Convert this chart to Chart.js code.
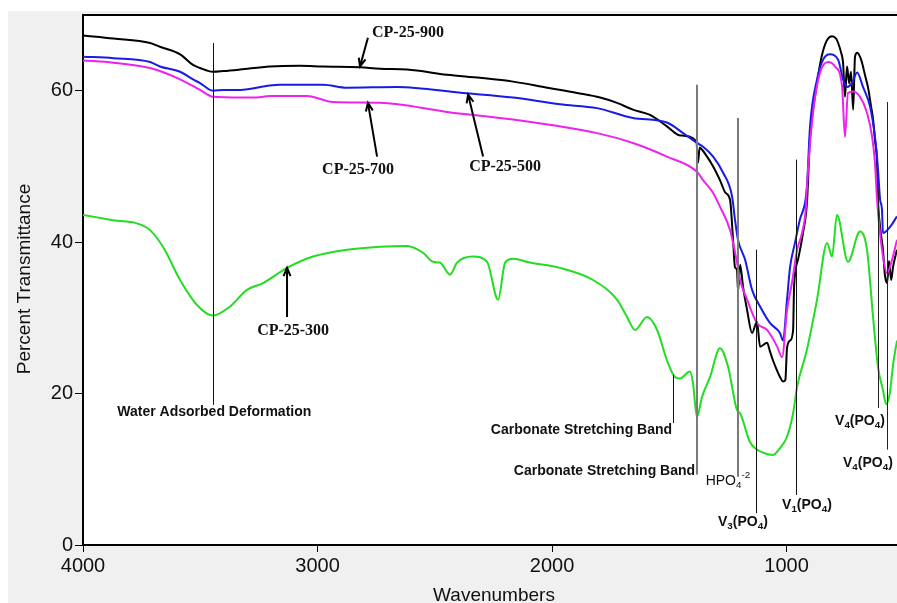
<!DOCTYPE html>
<html>
<head>
<meta charset="utf-8">
<script src="https://cdn.jsdelivr.net/npm/chart.js@4.4.0/dist/chart.umd.min.js"></script>
<style>
  html, body { margin: 0; padding: 0; background: #fff; overflow: hidden; }
</style>
</head>
<body>
<canvas id="ftir" width="897" height="603"></canvas>
<script>
// FTIR spectra, percent transmittance vs wavenumber (cm-1)
const xTicks = [4000, 3000, 2000, 1000];
const yTicks = [0, 20, 40, 60];

const wn900 = [4000, 3870, 3714, 3672, 3586, 3531, 3501, 3446, 3400, 3330, 3203, 3075, 2977, 2819, 2733, 2618, 2448, 2307, 2166, 2021, 1893, 1795, 1723, 1655, 1582, 1510, 1454, 1384, 1378, 1370, 1360, 1339, 1313, 1284, 1260, 1241, 1228, 1220, 1211, 1207, 1198, 1185, 1168, 1147, 1126, 1113, 1083, 1070, 1058, 1040, 1028, 1015, 1005, 998, 985, 972, 968, 951, 930, 913, 900, 887, 870, 857, 844, 827, 806, 789, 780, 767, 759, 751, 742, 733, 725, 716, 708, 699, 687, 678, 665, 653, 640, 631, 623, 614, 610, 601, 589, 580, 571, 563, 554, 546, 537, 529];
const pt900 = [67.3, 66.9, 66.3, 65.8, 64.8, 63.4, 63.0, 62.5, 62.6, 62.8, 63.2, 63.3, 63.2, 63.1, 62.9, 62.8, 62.1, 61.7, 61.2, 60.4, 59.7, 59.1, 58.4, 57.5, 56.8, 55.3, 54.1, 53.3, 50.5, 52.5, 52.2, 51.3, 50.0, 48.2, 46.5, 45.6, 40.3, 36.7, 36.3, 33.5, 37.0, 34.0, 31.0, 28.0, 29.5, 26.2, 26.7, 25.5, 24.4, 23.0, 22.2, 21.6, 21.8, 26.0, 27.0, 28.4, 34.0, 37.7, 41.2, 45.2, 53.9, 57.5, 61.0, 63.5, 65.3, 66.7, 67.2, 66.9, 66.3, 65.0, 63.7, 59.2, 63.2, 61.0, 62.5, 57.5, 64.5, 65.0, 64.5, 63.7, 62.0, 60.5, 58.0, 56.2, 53.5, 50.5, 45.6, 42.0, 39.0, 35.5, 34.6, 37.5, 35.0, 36.7, 38.0, 39.0];

const wn500 = [4000, 3870, 3714, 3672, 3586, 3531, 3501, 3446, 3400, 3330, 3203, 3160, 2977, 2874, 2661, 2380, 2166, 1966, 1808, 1655, 1510, 1441, 1382, 1356, 1313, 1271, 1232, 1220, 1207, 1177, 1147, 1113, 1070, 1028, 1015, 998, 985, 964, 943, 921, 913, 900, 870, 844, 815, 780, 759, 742, 721, 699, 674, 644, 623, 610, 601, 593, 589, 559, 529];
const pt500 = [64.5, 64.3, 63.8, 63.2, 62.5, 61.5, 61.0, 60.0, 60.1, 60.1, 60.7, 60.8, 60.8, 60.4, 60.5, 59.7, 59.1, 58.2, 57.7, 56.4, 55.8, 54.4, 53.1, 52.6, 51.3, 49.2, 46.0, 43.0, 40.3, 37.7, 33.7, 31.5, 29.3, 28.0, 27.0, 32.4, 36.7, 39.9, 43.0, 45.2, 47.3, 55.2, 61.5, 64.1, 64.8, 64.1, 61.5, 60.5, 61.0, 62.4, 60.5, 57.9, 53.9, 49.6, 45.6, 44.3, 41.2, 42.0, 43.4];

const wn700 = [4000, 3870, 3714, 3672, 3586, 3501, 3446, 3330, 3260, 3203, 3045, 2934, 2733, 2448, 2166, 1808, 1655, 1510, 1382, 1356, 1313, 1284, 1241, 1211, 1198, 1168, 1126, 1083, 1040, 1019, 998, 977, 955, 934, 917, 913, 887, 857, 823, 793, 763, 751, 738, 716, 687, 657, 635, 623, 614, 593, 571, 550, 529];
const pt700 = [64.0, 63.7, 63.0, 62.6, 61.5, 60.1, 59.2, 59.1, 59.1, 59.3, 59.3, 58.5, 58.4, 57.2, 56.2, 54.4, 53.1, 51.3, 49.3, 48.2, 46.5, 44.7, 41.6, 37.3, 35.0, 32.4, 29.3, 28.4, 26.2, 24.8, 31.0, 34.6, 39.0, 41.2, 44.7, 47.3, 57.1, 62.4, 63.8, 63.2, 60.5, 53.9, 59.7, 59.9, 59.2, 57.1, 53.9, 50.5, 45.6, 39.0, 35.9, 37.7, 40.3];

const wn300 = [4000, 3872, 3727, 3659, 3586, 3514, 3446, 3373, 3301, 3232, 3130, 3019, 2874, 2733, 2618, 2550, 2507, 2478, 2435, 2405, 2337, 2277, 2230, 2200, 2166, 2094, 1966, 1825, 1723, 1680, 1646, 1595, 1552, 1510, 1476, 1454, 1412, 1399, 1382, 1360, 1326, 1284, 1249, 1211, 1198, 1156, 1100, 1058, 1028, 998, 972, 955, 913, 870, 827, 806, 785, 738, 687, 657, 631, 610, 589, 575, 560, 545, 529];
const pt300 = [43.6, 42.9, 41.9, 39.4, 35.0, 31.7, 30.3, 31.5, 33.7, 34.6, 36.6, 38.1, 39.0, 39.4, 39.5, 38.6, 37.4, 37.3, 35.7, 37.3, 38.1, 37.4, 32.4, 37.3, 37.8, 37.3, 36.6, 35.0, 32.4, 30.1, 28.4, 30.1, 28.4, 24.4, 22.2, 22.0, 22.9, 21.4, 16.9, 19.6, 22.2, 26.0, 23.5, 17.8, 17.4, 13.6, 12.2, 11.9, 12.8, 14.3, 17.4, 20.9, 25.8, 32.4, 39.9, 38.1, 43.6, 37.4, 41.4, 39.0, 30.1, 23.5, 20.5, 18.6, 20.0, 24.0, 27.0];

// band markers: wavenumber, top and bottom of the guide line
const markWn = [3446, 1484, 1382, 1205, 1132, 960, 610, 573];
const markTop = [66.3, 22.5, 60.8, 56.4, 39.0, 50.9, 46.9, 58.5];
const markBottom = [18.5, 16.1, 9.3, 9.0, 4.2, 6.6, 18.1, 12.6];

const pts = (xs, ys) => xs.map((x, i) => ({ x, y: ys[i] }));

// label parts: [text, 'sub' | 'sup' | ''] ; anchors in data units
const bandLabels = [
  { parts: [['Water Adsorbed Deformation', '']], wn: 3440, val: 17.6, align: 'center', bold: true },
  { parts: [['Carbonate Stretching Band', '']], wn: 1488, val: 15.2, align: 'right', bold: true },
  { parts: [['Carbonate Stretching Band', '']], wn: 1390, val: 9.8, align: 'right', bold: true },
  { parts: [['HPO', ''], ['4', 'sub'], ['-2', 'sup']], wn: 1250, val: 8.5, align: 'center', bold: false },
  { parts: [['V', ''], ['3', 'sub'], ['(PO', ''], ['4', 'sub'], [')', '']], wn: 1186, val: 3.0, align: 'center', bold: true },
  { parts: [['V', ''], ['1', 'sub'], ['(PO', ''], ['4', 'sub'], [')', '']], wn: 913, val: 5.3, align: 'center', bold: true },
  { parts: [['V', ''], ['4', 'sub'], ['(PO', ''], ['4', 'sub'], [')', '']], wn: 687, val: 16.3, align: 'center', bold: true },
  { parts: [['V', ''], ['4', 'sub'], ['(PO', ''], ['4', 'sub'], [')', '']], wn: 653, val: 10.8, align: 'center', bold: true }
];
const markColor = ['#111', '#111', '#7a7a7a', '#7a7a7a', '#111', '#111', '#222', '#222'];
const markWidth = [1, 1, 2, 2, 1, 1, 1, 1];

// sample names with arrows pointing at their curve
const curveTags = [
  { text: 'CP-25-900', wn: 2614, val: 67.7, from: [2785, 67.0], to: [2819, 63.2] },
  { text: 'CP-25-700', wn: 2827, val: 49.6, from: [2746, 51.3], to: [2785, 58.4] },
  { text: 'CP-25-500', wn: 2200, val: 50.0, from: [2294, 51.3], to: [2358, 59.5] },
  { text: 'CP-25-300', wn: 3104, val: 28.3, from: [3130, 30.1], to: [3130, 36.6] }
];

function drawRich(ctx, parts, x, y, align, size, bold) {
  const w = bold ? 'bold ' : '';
  const fontFor = k => w + (k ? size * 0.7 : size) + 'px "Liberation Sans", Arial, sans-serif';
  let total = 0;
  parts.forEach(([t, k]) => { ctx.font = fontFor(k); total += ctx.measureText(t).width; });
  let cx = align === 'center' ? x - total / 2 : align === 'right' ? x - total : x;
  ctx.textAlign = 'left';
  ctx.textBaseline = 'middle';
  parts.forEach(([t, k]) => {
    ctx.font = fontFor(k);
    const dy = k === 'sub' ? size * 0.3 : k === 'sup' ? -size * 0.35 : 0;
    ctx.fillText(t, cx, y + dy);
    cx += ctx.measureText(t).width;
  });
}

function arrow(ctx, x1, y1, x2, y2) {
  const a = Math.atan2(y2 - y1, x2 - x1), h = 9;
  ctx.beginPath();
  ctx.moveTo(x1, y1); ctx.lineTo(x2, y2);
  ctx.moveTo(x2 - h * Math.cos(a - 0.4), y2 - h * Math.sin(a - 0.4));
  ctx.lineTo(x2, y2);
  ctx.lineTo(x2 - h * Math.cos(a + 0.4), y2 - h * Math.sin(a + 0.4));
  ctx.stroke();
}

const framePlugin = {
  id: 'frame',
  beforeDraw(chart) {
    const { ctx, chartArea: a, width, height } = chart;
    ctx.save();
    ctx.fillStyle = '#ffffff';
    ctx.fillRect(0, 0, width, height);
    ctx.fillStyle = '#f0f0f0';
    ctx.fillRect(8, 11, width - 8, height - 11);
    ctx.fillStyle = '#ffffff';
    ctx.fillRect(a.left, a.top, a.right - a.left, a.bottom - a.top);
    ctx.restore();
  },
  afterDatasetsDraw(chart) {
    const { ctx, scales: { x, y } } = chart;
    ctx.save();
    markWn.forEach((w, i) => {
      const px = Math.round(x.getPixelForValue(w)) + (markWidth[i] === 1 ? 0.5 : 0);
      ctx.strokeStyle = markColor[i];
      ctx.lineWidth = markWidth[i];
      ctx.beginPath();
      ctx.moveTo(px, y.getPixelForValue(markTop[i]));
      ctx.lineTo(px, y.getPixelForValue(markBottom[i]));
      ctx.stroke();
    });
    ctx.fillStyle = '#111';
    bandLabels.forEach(l => {
      drawRich(ctx, l.parts, x.getPixelForValue(l.wn), y.getPixelForValue(l.val), l.align, 14, l.bold);
    });
    ctx.strokeStyle = '#000';
    ctx.lineWidth = 2;
    ctx.font = 'bold 16px "Liberation Serif", "Times New Roman", serif';
    ctx.textAlign = 'center';
    ctx.textBaseline = 'middle';
    curveTags.forEach(t => {
      ctx.fillText(t.text, x.getPixelForValue(t.wn), y.getPixelForValue(t.val));
      arrow(ctx, x.getPixelForValue(t.from[0]), y.getPixelForValue(t.from[1]),
        x.getPixelForValue(t.to[0]), y.getPixelForValue(t.to[1]));
    });
    ctx.restore();
  },
  afterDraw(chart) {
    const { ctx, chartArea: a } = chart;
    ctx.save();
    ctx.strokeStyle = '#000';
    ctx.lineWidth = 2;
    ctx.beginPath();
    ctx.moveTo(a.left, a.top);
    ctx.lineTo(a.right, a.top);
    ctx.stroke();
    ctx.fillStyle = '#111';
    ctx.font = '19px "Liberation Sans", Arial, sans-serif';
    ctx.textAlign = 'center';
    ctx.textBaseline = 'middle';
    ctx.fillText('Wavenumbers', (a.left + a.right) / 2 + 4, 596);
    ctx.translate(25, 279);
    ctx.rotate(-Math.PI / 2);
    ctx.fillText('Percent Transmittance', 0, 0);
    ctx.restore();
  }
};

const line = (label, xs, ys, color) => ({
  label, data: pts(xs, ys), borderColor: color, borderWidth: 2,
  pointRadius: 0, cubicInterpolationMode: 'monotone', fill: false
});

const tickFont = { family: '"Liberation Sans", Arial, sans-serif', size: 20 };

new Chart(document.getElementById('ftir'), {
  type: 'line',
  data: {
    datasets: [
      line('CP-25-300', wn300, pt300, '#22dd22'),
      line('CP-25-700', wn700, pt700, '#ee22ee'),
      line('CP-25-500', wn500, pt500, '#1a1ae6'),
      line('CP-25-900', wn900, pt900, '#000000')
    ]
  },
  options: {
    responsive: false,
    animation: false,
    layout: { padding: { top: 15, left: 0, right: 0, bottom: 0 } },
    plugins: { legend: { display: false }, tooltip: { enabled: false } },
    scales: {
      x: {
        type: 'linear', reverse: true, min: 529, max: 4000,
        afterBuildTicks: s => { s.ticks = xTicks.map(v => ({ value: v })); },
        afterFit: s => { s.height = 58; },
        grid: { display: true, drawOnChartArea: false, drawTicks: true, tickLength: 7, color: '#000' },
        border: { display: true, color: '#000', width: 2 },
        ticks: { color: '#111', padding: 2, font: tickFont, callback: v => String(v) }
      },
      y: {
        type: 'linear', min: 0, max: 70,
        afterBuildTicks: s => { s.ticks = yTicks.map(v => ({ value: v })); },
        afterFit: s => { s.width = 83; },
        grid: { display: true, drawOnChartArea: false, drawTicks: true, tickLength: 8, color: '#000' },
        border: { display: true, color: '#000', width: 2 },
        ticks: { color: '#111', padding: 2, font: tickFont, callback: v => String(v) }
      }
    }
  },
  plugins: [framePlugin]
});
</script>
</body>
</html>
